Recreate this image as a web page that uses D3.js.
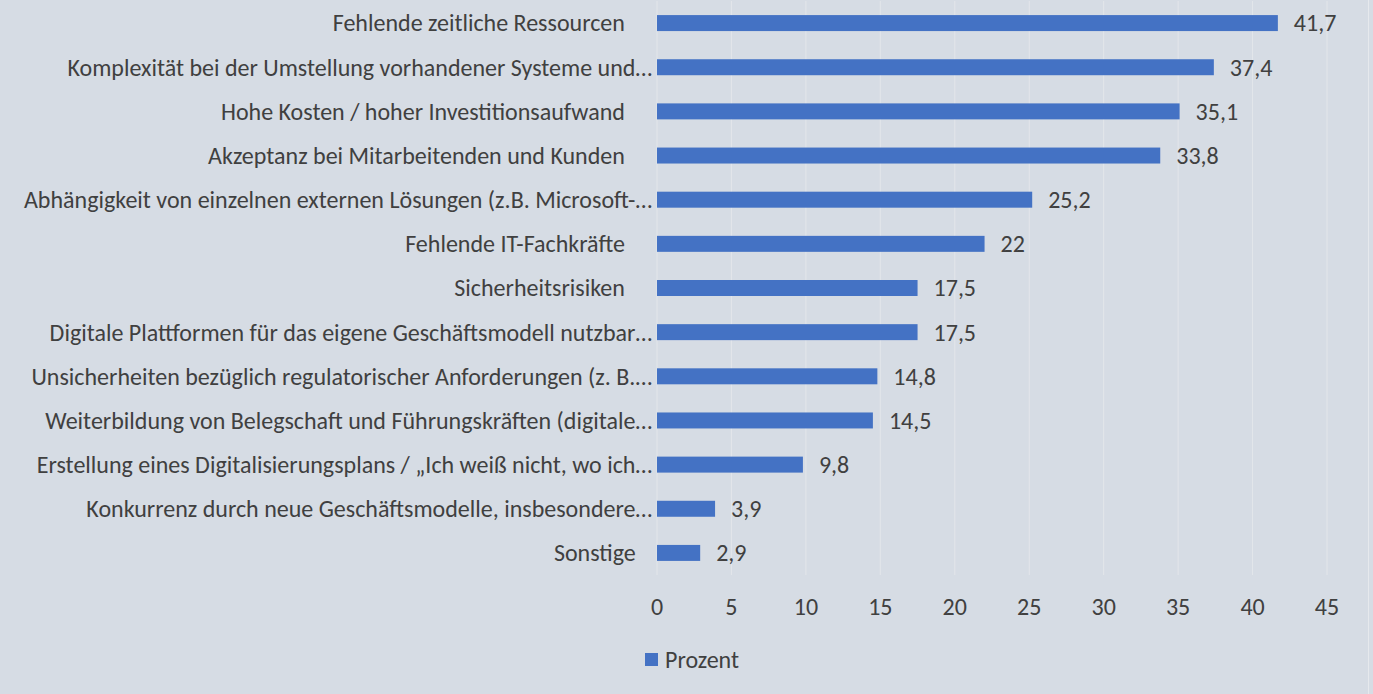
<!DOCTYPE html>
<html>
<head>
<meta charset="utf-8">
<script src="https://cdn.jsdelivr.net/npm/d3@7"></script>
<style>
  body { margin: 0; background: #d6dce4; }
  svg text { font-family: Carlito, Lato, "Open Sans", sans-serif; fill: #404040; white-space: pre; }
</style>
</head>
<body>
<div id="chart"></div>
<script>
// labels keep their trailing spaces like the source sheet
var categories = [
  "Fehlende zeitliche Ressourcen     ",
  "Komplexität bei der Umstellung vorhandener Systeme und…",
  "Hohe Kosten / hoher Investitionsaufwand     ",
  "Akzeptanz bei Mitarbeitenden und Kunden     ",
  "Abhängigkeit von einzelnen externen Lösungen (z.B. Microsoft-…",
  "Fehlende IT-Fachkräfte     ",
  "Sicherheitsrisiken     ",
  "Digitale Plattformen für das eigene Geschäftsmodell nutzbar…",
  "Unsicherheiten bezüglich regulatorischer Anforderungen (z. B.…",
  "Weiterbildung von Belegschaft und Führungskräften (digitale…",
  "Erstellung eines Digitalisierungsplans / „Ich weiß nicht, wo ich…",
  "Konkurrenz durch neue Geschäftsmodelle, insbesondere…",
  "Sonstige   "
];
var values = [41.7, 37.4, 35.1, 33.8, 25.2, 22, 17.5, 17.5, 14.8, 14.5, 9.8, 3.9, 2.9];
var ticks = [0, 5, 10, 15, 20, 25, 30, 35, 40, 45];
var seriesName = "Prozent";

var width = 1373, height = 694;
var margin = {top: 1, right: 46, bottom: 119, left: 657};
var fontSize = 24;

var svg = d3.select("#chart").append("svg")
    .attr("width", width)
    .attr("height", height);

svg.append("rect")
    .attr("width", width).attr("height", height)
    .attr("fill", "#d6dce4");

var x = d3.scaleLinear().domain([0, 45]).range([margin.left, width - margin.right]);
var y = d3.scaleBand().domain(categories)
    .range([margin.top, height - margin.bottom])
    .paddingInner(0.638).paddingOuter(0.319);

// gridlines
svg.selectAll(".grid")
    .data(ticks)
    .enter().append("line")
    .attr("x1", d => x(d)).attr("x2", d => x(d))
    .attr("y1", margin.top).attr("y2", height - margin.bottom)
    .attr("stroke", "#e3e6ea")
    .attr("stroke-width", 1);

// bars
svg.selectAll(".bar")
    .data(values)
    .enter().append("rect")
    .attr("x", x(0))
    .attr("y", (d, i) => y(categories[i]))
    .attr("width", d => x(d) - x(0))
    .attr("height", y.bandwidth())
    .attr("fill", "#4472c4");

// value labels
svg.selectAll(".val")
    .data(values)
    .enter().append("text")
    .attr("x", d => x(d) + 16)
    .attr("y", (d, i) => y(categories[i]) + y.bandwidth() / 2)
    .attr("dy", "0.35em")
    .style("font-size", fontSize + "px")
    .text(d => String(d).replace(".", ","));

// category labels
svg.selectAll(".cat")
    .data(categories)
    .enter().append("text")
    .attr("x", x(0) - 5)
    .attr("y", d => y(d) + y.bandwidth() / 2)
    .attr("dy", "0.35em")
    .attr("text-anchor", "end")
    .style("font-size", fontSize + "px")
    .text(d => d);

// x axis tick labels
svg.selectAll(".tick")
    .data(ticks)
    .enter().append("text")
    .attr("x", d => x(d))
    .attr("y", 607)
    .attr("dy", "0.35em")
    .attr("text-anchor", "middle")
    .style("font-size", fontSize + "px")
    .text(d => d);

// legend
svg.append("rect")
    .attr("x", 645).attr("y", 653)
    .attr("width", 13).attr("height", 13)
    .attr("fill", "#4472c4");
svg.append("text")
    .attr("x", 665).attr("y", 660)
    .attr("dy", "0.35em")
    .style("font-size", fontSize + "px")
    .text(seriesName);

// thin border on the right
svg.append("line")
    .attr("x1", 1368.5).attr("x2", 1368.5)
    .attr("y1", 0).attr("y2", height)
    .attr("stroke", "#e6e9ed");
</script>
</body>
</html>
